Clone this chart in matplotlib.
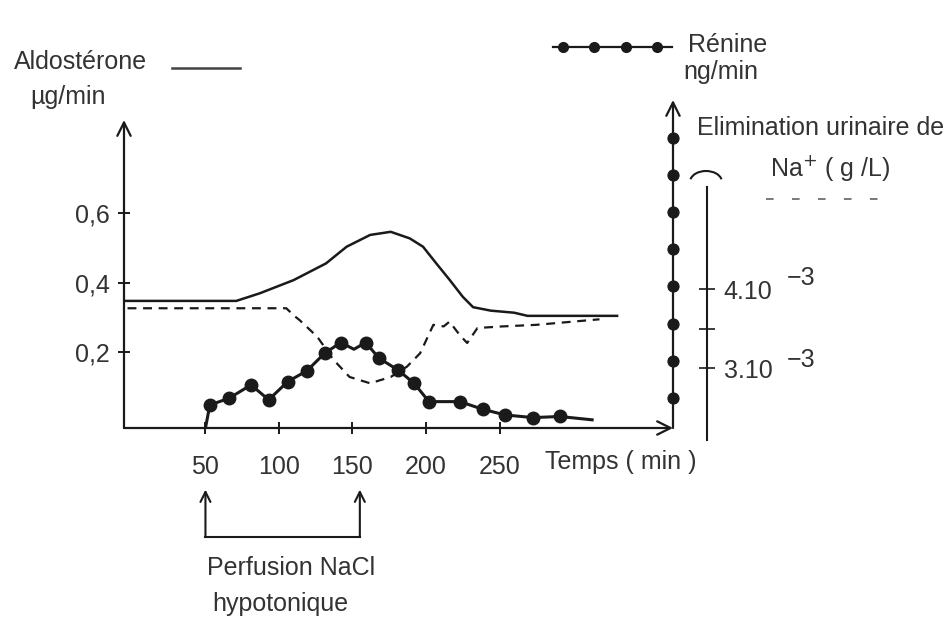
import numpy as np
import matplotlib
matplotlib.use("Agg")
import matplotlib.pyplot as plt
import matplotlib.transforms as mtransforms
from matplotlib.lines import Line2D
from matplotlib.patches import Arc

plt.rcParams["font.family"] = ["Liberation Sans", "DejaVu Sans"]

W, H = 946, 619
INK = "#1a1a1a"
FS = 18

# time (min)
x_ticks = [50, 100, 150, 200, 250]
perf_t = [50, 155]  # perfusion NaCl hypotonique

# aldosterone (µg/min), solid
aldo_t = [-5, 71, 87, 110, 132, 146, 162, 176, 189, 198, 207, 216, 225, 232, 244, 260, 269, 330]
aldo_v = [0.347, 0.347, 0.369, 0.407, 0.455, 0.503, 0.537, 0.546, 0.527, 0.503,
          0.455, 0.408, 0.359, 0.329, 0.319, 0.313, 0.304, 0.304]
aldo_ticks = [0.2, 0.4, 0.6]
aldo_labels = ["0,2", "0,4", "0,6"]

# renin (ng/min, graduation units of the dotted axis)
renin_t = [50, 53, 66, 81, 93, 106, 119, 131, 142, 151, 159, 168, 181, 192, 202,
           223, 239, 254, 273, 291, 313]
renin_v = [0.19, 0.81, 0.99, 1.35, 0.95, 1.44, 1.73, 2.20, 2.49, 2.31, 2.49, 2.07,
           1.75, 1.39, 0.90, 0.90, 0.69, 0.54, 0.47, 0.50, 0.41]
renin_dot = [False, True, True, True, True, True, True, True, True, False, True, True,
             True, True, True, True, True, True, True, True, False]
renin_grad = [1, 2, 3, 4, 5, 6, 7, 8]

# urinary Na+ (x 1e-3 g/L), dashed
na_t = [-3, 105, 110, 114, 126, 137, 148, 162, 176, 187, 196, 205, 212, 216, 223,
        228, 235, 252, 275, 318]
na_v = [3.76, 3.76, 3.67, 3.61, 3.40, 3.11, 2.89, 2.81, 2.89, 3.02, 3.19, 3.55,
        3.53, 3.59, 3.42, 3.32, 3.51, 3.53, 3.55, 3.62]
na_ticks = [3, 3.5, 4]
na_labels = ["3.10", "", "4.10"]


def fx(px):
    return px / W


def fy(py):
    return 1 - py / H


fig = plt.figure(figsize=(W / 100, H / 100), dpi=100)

X0, X1 = 124, 673
XLIM = (-5.4, 368)
arrow_kw = dict(arrowstyle="->", lw=1.6, color=INK, mutation_scale=24,
                shrinkA=0, shrinkB=0)

# main axis: aldosterone
ax = fig.add_axes([fx(X0), fy(428), (X1 - X0) / W, (428 - 120) / H])
ax.set_xlim(*XLIM)
ax.set_ylim(-0.019, 0.868)
for s in ax.spines.values():
    s.set_visible(False)
ax.set_xticks(x_ticks)
ax.set_yticks(aldo_ticks)
ax.set_yticklabels(aldo_labels)
ax.tick_params(axis="both", direction="inout", length=9, width=1.4, color=INK,
               labelsize=FS, labelcolor="#333333")
ax.tick_params(axis="x", pad=15)
ax.tick_params(axis="y", pad=6)
ax.annotate("", xy=(0, 1), xytext=(0, 0), xycoords="axes fraction", arrowprops=arrow_kw)
ax.annotate("", xy=(1, 0), xytext=(0, 0), xycoords="axes fraction", arrowprops=arrow_kw)
ax.plot(aldo_t, aldo_v, color=INK, lw=1.8)

# perfusion bracket below the time axis
bt = mtransforms.blended_transform_factory(ax.transData, ax.transAxes)
for t in perf_t:
    ax.annotate("", xy=(t, -0.20), xytext=(t, -0.354),
                xycoords=("data", "axes fraction"),
                arrowprops=dict(arrowstyle="->", lw=1.5, color=INK,
                                mutation_scale=18, shrinkA=0, shrinkB=0))
ax.plot(perf_t, [-0.354, -0.354], color=INK, lw=1.5, transform=bt, clip_on=False)

# renin axis (dotted graduations)
ax_r = fig.add_axes([fx(X0), fy(428), (X1 - X0) / W, (428 - 100) / H])
ax_r.patch.set_visible(False)
ax_r.set_xlim(*XLIM)
ax_r.set_ylim(0.19, 9.02)
for s in ax_r.spines.values():
    s.set_visible(False)
ax_r.set_xticks([])
ax_r.yaxis.tick_right()
ax_r.set_yticks(renin_grad)
ax_r.set_yticklabels([])
for tl in ax_r.yaxis.get_ticklines():
    tl.set_marker("o")
    tl.set_markersize(8)
    tl.set_markerfacecolor(INK)
    tl.set_markeredgecolor(INK)
ax_r.annotate("", xy=(1, 1), xytext=(1, 0), xycoords="axes fraction", arrowprops=arrow_kw)
ax_r.plot(renin_t, renin_v, color=INK, lw=2.2, marker="o", markersize=9,
          markevery=renin_dot)

# Na+ axis
ax_na = fig.add_axes([fx(X0), fy(440), (X1 - X0) / W, (440 - 187) / H])
ax_na.patch.set_visible(False)
ax_na.set_xlim(*XLIM)
ax_na.set_ylim(2.092, 5.295)
for k, s in ax_na.spines.items():
    s.set_visible(k == "right")
ax_na.spines["right"].set_position(("axes", (707 - X0) / (X1 - X0)))
ax_na.spines["right"].set_linewidth(1.5)
ax_na.spines["right"].set_color(INK)
ax_na.set_xticks([])
ax_na.yaxis.tick_right()
ax_na.set_yticks(na_ticks)
ax_na.set_yticklabels(na_labels)
ax_na.tick_params(axis="y", direction="inout", length=12, width=1.2, color=INK,
                  labelsize=FS, labelcolor="#333333", pad=6)
for v in (3, 4):
    ax_na.annotate("\u22123", xy=((707 - X0) / (X1 - X0), v),
                   xycoords=("axes fraction", "data"), xytext=(80, 11 if v == 4 else 8),
                   textcoords="offset pixels", fontsize=FS, color="#333333",
                   va="center", ha="left")
ax_na.plot(na_t, na_v, color=INK, lw=1.6, dashes=(4, 3))
fig.add_artist(Arc((fx(706), fy(182)), width=32 / W, height=22 / H, theta1=15,
                   theta2=165, transform=fig.transFigure, lw=1.5, color=INK))

# legend samples and labels
fig.add_artist(Line2D([fx(172), fx(240)], [fy(68), fy(68)], color="#444444", lw=1.8))
leg_x = [553] + list(np.linspace(563, 657, 4)) + [672]
fig.add_artist(Line2D([fx(v) for v in leg_x], [fy(47)] * len(leg_x), color=INK, lw=1.6,
                      marker="o", markersize=7, markevery=[1, 2, 3, 4]))
fig.add_artist(Line2D([fx(766), fx(880)], [fy(199), fy(199)], color="#555555", lw=1.1,
                      dashes=(5, 12)))

txt = dict(fontsize=FS, color="#333333", va="center", ha="left")
fig.text(fx(14), fy(62), "Aldostérone", **txt)
fig.text(fx(30), fy(97), "µg/min", **txt)
fig.text(fx(688), fy(45), "Rénine", **txt)
fig.text(fx(683), fy(72), "ng/min", **txt)
fig.text(fx(697), fy(128), "Elimination urinaire de", **txt)
fig.text(fx(770), fy(168), "Na$^{+}$ ( g /L)", **txt)
fig.text(fx(545), fy(462), "Temps ( min )", **txt)
fig.text(fx(207), fy(568), "Perfusion NaCl", **txt)
fig.text(fx(212), fy(604), "hypotonique", **txt)

fig.savefig("out.png", dpi=100, facecolor="white")
